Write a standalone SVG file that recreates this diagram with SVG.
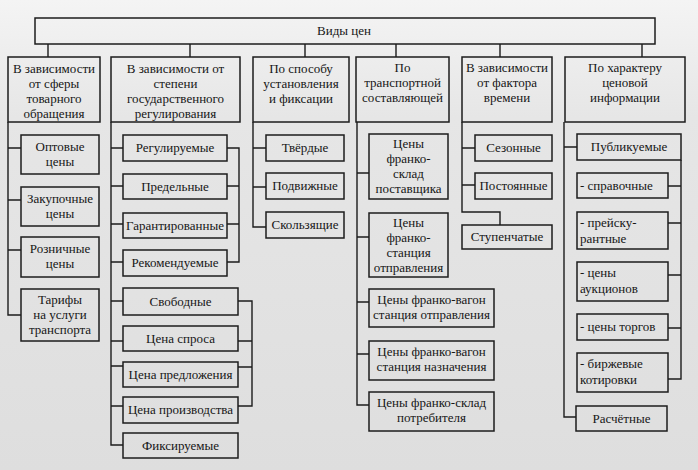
<svg xmlns="http://www.w3.org/2000/svg" width="698" height="470" viewBox="0 0 698 470">
<defs>
<linearGradient id="bg" x1="0" y1="0" x2="0" y2="1">
<stop offset="0" stop-color="#f4f4f4"/>
<stop offset="0.25" stop-color="#e6e6e6"/>
<stop offset="1" stop-color="#dedede"/>
</linearGradient>
<style>
.box{fill:none;stroke:#1c1c1c;stroke-width:1.5}
.ln{fill:none;stroke:#1c1c1c;stroke-width:1.4}
.t{font-family:'Liberation Serif','DejaVu Serif',serif;font-size:13px;fill:#161616;text-anchor:middle}
.l{text-anchor:start}
</style>
</defs>
<rect width="698" height="470" fill="url(#bg)"/>

<g id="connectors" class="ln">
<path d="M48,44V57M190,44V57M305,44V57M396,44V57M500,44V57M642,44V57"/>
<path d="M8,122V315H21M8,148H21M8,200H21M8,250H21"/>
<path d="M111,122V445H123M111,148H123M111,186H123M111,224H123M111,262H123M111,301H123M111,341H123M111,366H123M111,406H123"/>
<path d="M227,148H239V262H227M227,186H239M227,224H239"/>
<path d="M238,301H252V406H238M238,341H252M238,367H252"/>
<path d="M253,122V227H266M253,148H266M253,187H266"/>
<path d="M357,122V405H369M357,173H369M357,237H369M357,302H369M357,354H369"/>
<path d="M462,122V212H500V225M462,148H475M462,185H475"/>
<path d="M564,122V417H576M564,147H577"/>
<path d="M681,160V379H668M668,186H681M668,223H681M668,275H681M668,328H681"/>
</g>

<g id="root"><rect class="box" x="35" y="18" width="620" height="26"/><text class="t" x="344" y="35">Виды цен</text></g>

<g id="cat1"><rect class="box" x="8" y="57" width="92" height="65"/><text class="t" x="54" y="73">В зависимости</text><text class="t" x="54" y="88">от сферы</text><text class="t" x="54" y="103">товарного</text><text class="t" x="54" y="118">обращения</text></g>
<g id="cat2"><rect class="box" x="111" y="57" width="129" height="65"/><text class="t" x="175.5" y="73">В зависимости от</text><text class="t" x="175.5" y="88">степени</text><text class="t" x="175.5" y="103">государственного</text><text class="t" x="175.5" y="118">регулирования</text></g>
<g id="cat3"><rect class="box" x="253" y="57" width="96" height="65"/><text class="t" x="301" y="73">По способу</text><text class="t" x="301" y="88">установления</text><text class="t" x="301" y="103">и фиксации</text></g>
<g id="cat4"><rect class="box" x="356" y="57" width="93" height="65"/><text class="t" x="402.5" y="72">По</text><text class="t" x="402.5" y="87">транспортной</text><text class="t" x="402.5" y="102">составляющей</text></g>
<g id="cat5"><rect class="box" x="462" y="57" width="90" height="65"/><text class="t" x="507" y="72">В зависимости</text><text class="t" x="507" y="87">от фактора</text><text class="t" x="507" y="102">времени</text></g>
<g id="cat6"><rect class="box" x="565" y="57" width="120" height="65"/><text class="t" x="625" y="72">По характеру</text><text class="t" x="625" y="87">ценовой</text><text class="t" x="625" y="102">информации</text></g>

<g id="c1a"><rect class="box" x="21" y="135" width="78" height="39"/><text class="t" x="60" y="151">Оптовые</text><text class="t" x="60" y="166">цены</text></g>
<g id="c1b"><rect class="box" x="21" y="187" width="78" height="39"/><text class="t" x="60" y="203">Закупочные</text><text class="t" x="60" y="218">цены</text></g>
<g id="c1c"><rect class="box" x="21" y="237" width="78" height="40"/><text class="t" x="60" y="253">Розничные</text><text class="t" x="60" y="268">цены</text></g>
<g id="c1d"><rect class="box" x="21" y="289" width="78" height="52"/><text class="t" x="60" y="304">Тарифы</text><text class="t" x="60" y="319">на услуги</text><text class="t" x="60" y="334">транспорта</text></g>

<g id="c2a"><rect class="box" x="123" y="135" width="104" height="26"/><text class="t" x="175" y="152">Регулируемые</text></g>
<g id="c2b"><rect class="box" x="123" y="174" width="104" height="25"/><text class="t" x="175" y="191">Предельные</text></g>
<g id="c2c"><rect class="box" x="123" y="213" width="104" height="25"/><text class="t" x="175" y="230">Гарантированные</text></g>
<g id="c2d"><rect class="box" x="123" y="250" width="104" height="26"/><text class="t" x="175" y="267">Рекомендуемые</text></g>
<g id="c2e"><rect class="box" x="123" y="288" width="115" height="27"/><text class="t" x="180.5" y="306">Свободные</text></g>
<g id="c2f"><rect class="box" x="123" y="326" width="115" height="25"/><text class="t" x="180.5" y="343">Цена спроса</text></g>
<g id="c2g"><rect class="box" x="123" y="362" width="115" height="25"/><text class="t" x="180.5" y="379">Цена предложения</text></g>
<g id="c2h"><rect class="box" x="123" y="397" width="115" height="26"/><text class="t" x="180.5" y="414">Цена производства</text></g>
<g id="c2i"><rect class="box" x="123" y="433" width="115" height="25"/><text class="t" x="180.5" y="450">Фиксируемые</text></g>

<g id="c3a"><rect class="box" x="266" y="135" width="78" height="26"/><text class="t" x="305" y="152">Твёрдые</text></g>
<g id="c3b"><rect class="box" x="266" y="173" width="78" height="26"/><text class="t" x="305" y="190">Подвижные</text></g>
<g id="c3c"><rect class="box" x="266" y="212" width="78" height="26"/><text class="t" x="305" y="229">Скользящие</text></g>

<g id="c4a"><rect class="box" x="369" y="134" width="79" height="65"/><text class="t" x="408.5" y="148">Цены</text><text class="t" x="408.5" y="163">франко-</text><text class="t" x="408.5" y="178">склад</text><text class="t" x="408.5" y="193">поставщика</text></g>
<g id="c4b"><rect class="box" x="369" y="213" width="79" height="64"/><text class="t" x="408.5" y="227">Цены</text><text class="t" x="408.5" y="242">франко-</text><text class="t" x="408.5" y="257">станция</text><text class="t" x="408.5" y="272">отправления</text></g>
<g id="c4c"><rect class="box" x="369" y="289" width="125" height="38"/><text class="t" x="431.5" y="304">Цены франко-вагон</text><text class="t" x="431.5" y="319">станция отправления</text></g>
<g id="c4d"><rect class="box" x="369" y="341" width="125" height="39"/><text class="t" x="431.5" y="356">Цены франко-вагон</text><text class="t" x="431.5" y="371">станция назначения</text></g>
<g id="c4e"><rect class="box" x="369" y="392" width="125" height="39"/><text class="t" x="431.5" y="407">Цены франко-склад</text><text class="t" x="431.5" y="422">потребителя</text></g>

<g id="c5a"><rect class="box" x="475" y="135" width="77" height="26"/><text class="t" x="513.5" y="152">Сезонные</text></g>
<g id="c5b"><rect class="box" x="475" y="173" width="77" height="26"/><text class="t" x="513.5" y="190">Постоянные</text></g>
<g id="c5c"><rect class="box" x="462" y="225" width="90" height="24"/><text class="t" x="507" y="241">Ступенчатые</text></g>

<g id="c6a"><rect class="box" x="577" y="134" width="104" height="26"/><text class="t" x="629" y="151">Публикуемые</text></g>
<g id="c6b"><rect class="box" x="577" y="173" width="91" height="25"/><text class="t l" x="580" y="190">- справочные</text></g>
<g id="c6c"><rect class="box" x="577" y="212" width="91" height="37"/><text class="t l" x="580" y="227">- прейску-</text><text class="t l" x="580" y="243">рантные</text></g>
<g id="c6d"><rect class="box" x="577" y="262" width="91" height="39"/><text class="t l" x="580" y="277">- цены</text><text class="t l" x="580" y="293">аукционов</text></g>
<g id="c6e"><rect class="box" x="577" y="314" width="91" height="26"/><text class="t l" x="580" y="331">- цены торгов</text></g>
<g id="c6f"><rect class="box" x="577" y="353" width="91" height="39"/><text class="t l" x="580" y="368">- биржевые</text><text class="t l" x="580" y="384">котировки</text></g>
<g id="c6g"><rect class="box" x="576" y="406" width="91" height="25"/><text class="t" x="621.5" y="423">Расчётные</text></g>
</svg>
